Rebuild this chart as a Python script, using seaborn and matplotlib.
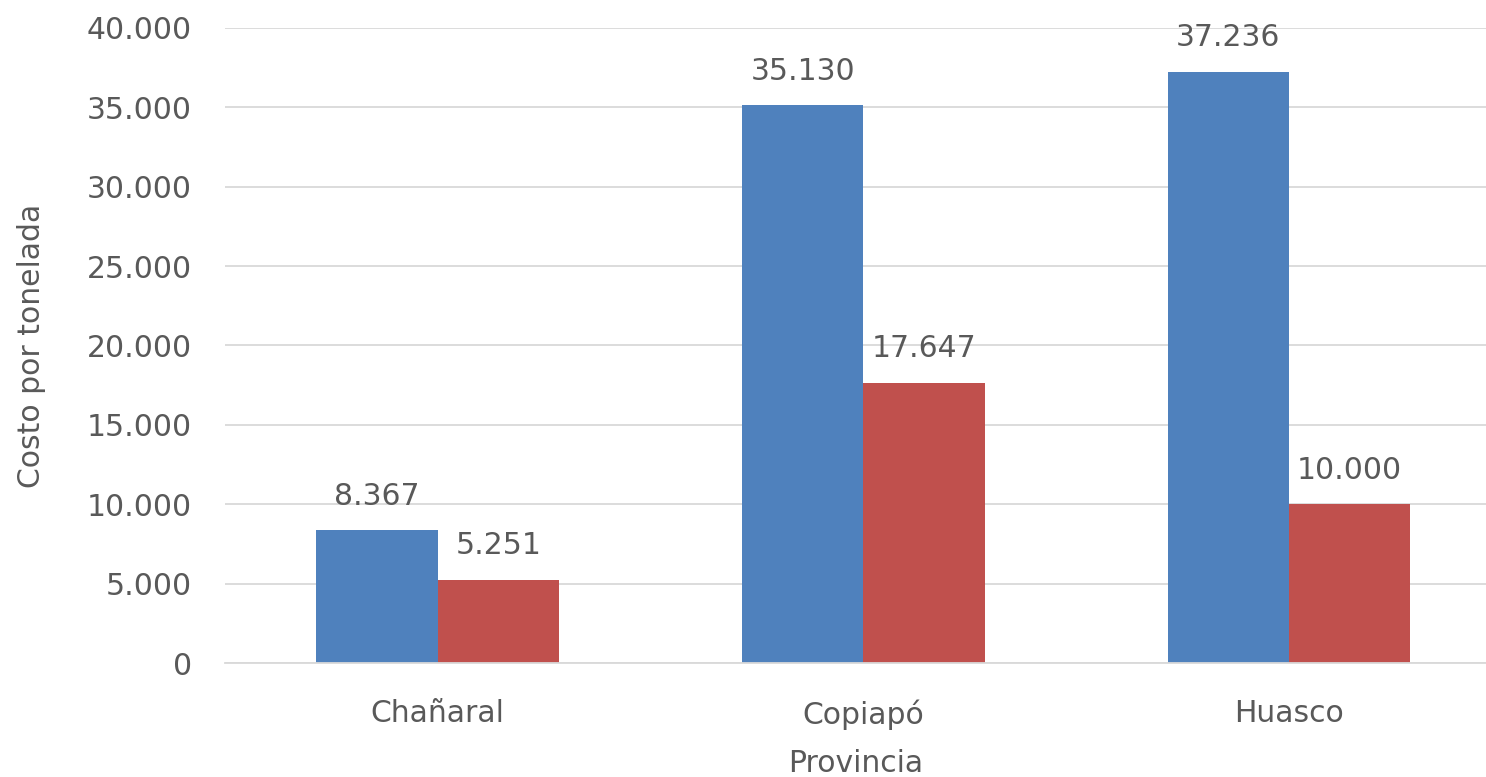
import pandas as pd
import seaborn as sns
import matplotlib.pyplot as plt

# Datos
provincias = ["Chañaral", "Copiapó", "Huasco"]
serie_a = [8367, 35130, 37236]
serie_b = [5251, 17647, 10000]
series = ["Serie 1", "Serie 2"]
colores = ["#4F81BD", "#C0504D"]

df = pd.DataFrame({
    "Provincia": provincias * 2,
    "Serie": [series[0]] * 3 + [series[1]] * 3,
    "Costo": serie_a + serie_b,
})

sns.set_style("white")
plt.rcParams["font.family"] = ["DejaVu Sans"]
gris = "#595959"

fig = plt.figure(figsize=(14.86, 7.77), dpi=100)
ax = fig.add_axes([0.1514, 0.1467, 0.8486, 0.8173])

sns.barplot(data=df, x="Provincia", y="Costo", hue="Serie", palette=colores,
            width=0.57, saturation=1, legend=False, linewidth=0, ax=ax)

def miles(v):
    return f"{v:,.0f}".replace(",", ".")

for cont in ax.containers:
    ax.bar_label(cont, labels=[miles(b.get_height()) for b in cont],
                 padding=14, fontsize=21.5, color=gris)

ax.set_ylim(0, 40000)
ax.set_xlim(-0.5, 2.4635)
ax.set_yticks(range(0, 40001, 5000))
ax.set_yticklabels([miles(v) for v in range(0, 40001, 5000)])
ax.yaxis.grid(True, color="#D9D9D9", linewidth=1.3)
ax.set_axisbelow(True)
for s in ["top", "right", "left"]:
    ax.spines[s].set_visible(False)
ax.spines["bottom"].set_color("#D9D9D9")
ax.spines["bottom"].set_linewidth(1.3)
ax.tick_params(axis="both", length=0, labelsize=21.5, colors=gris)
ax.tick_params(axis="y", pad=24)
ax.tick_params(axis="x", pad=26)
ax.set_xlabel("Provincia", fontsize=21.5, color=gris, labelpad=14)
ax.set_ylabel("Costo por tonelada", fontsize=21.5, color=gris, labelpad=29)

fig.savefig("out.png", dpi=100)
